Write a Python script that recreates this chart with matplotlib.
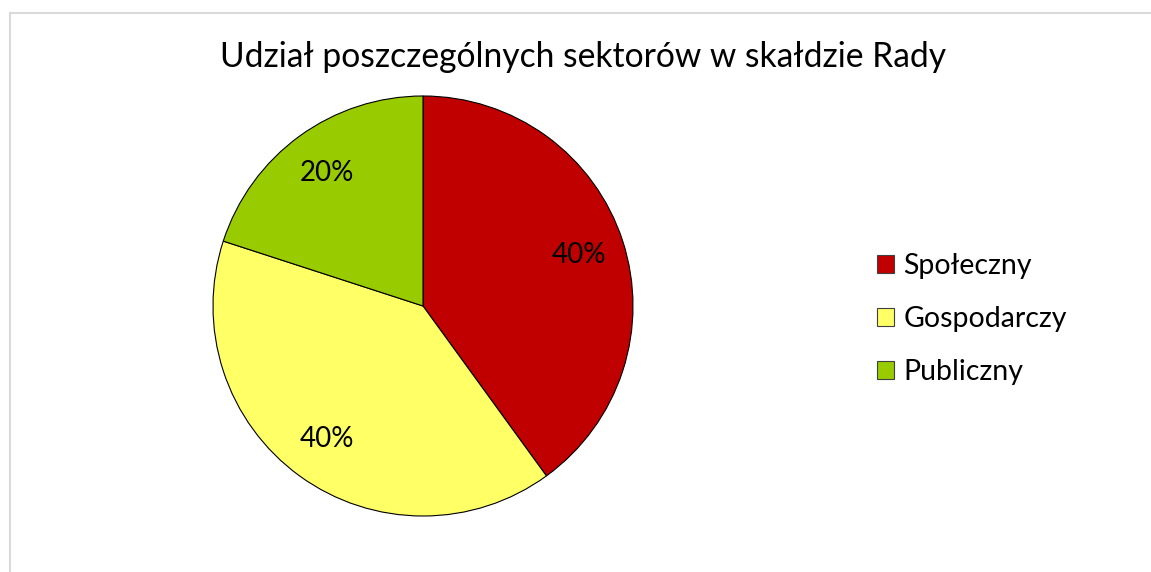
import matplotlib
matplotlib.use('Agg')
import matplotlib.pyplot as plt
from matplotlib.patches import Patch
from matplotlib.lines import Line2D

plt.rcParams['font.family'] = ['Lato', 'DejaVu Sans']

title = 'Udział poszczególnych sektorów w skałdzie Rady'
sectors = ['Społeczny', 'Gospodarczy', 'Publiczny']
shares = [40, 40, 20]
colors = ['#C00000', '#FFFF66', '#99CC00']

W, H = 1151, 572
fig = plt.figure(figsize=(W / 100, H / 100), dpi=100)

# light grey chart frame (runs off the right and bottom edge)
fig.add_artist(Line2D([9.5 / W, 1.0], [1 - 12.5 / H, 1 - 12.5 / H], color='#d9d9d9', lw=1.5))
fig.add_artist(Line2D([9.5 / W, 9.5 / W], [1 - 12.5 / H, 0.0], color='#d9d9d9', lw=1.5))

# pie axes placed in pixels: left 213, top 96, size 420
ax = fig.add_axes([213 / W, (H - 516) / H, 420 / W, 420 / H])
wedges, texts, autotexts = ax.pie(
    shares, colors=colors, startangle=90, counterclock=False,
    autopct='%1.0f%%', pctdistance=0.78, radius=1.0,
    wedgeprops=dict(edgecolor='black', linewidth=0.8),
    textprops=dict(fontsize=20, color='black'))
ax.set_xlim(-1, 1)
ax.set_ylim(-1, 1)
ax.set_aspect('auto')
ax.axis('off')

fig.text(583 / W, 1 - 57 / H, title, ha='center', va='center', fontsize=24.2)

handles = [Patch(facecolor=c, edgecolor='#404040', linewidth=0.8) for c in colors]
fig.legend(handles, sectors, loc='center left', bbox_to_anchor=(877 / W, 1 - 319 / H),
           frameon=False, fontsize=20.5, handlelength=0.6, handleheight=0.6,
           handletextpad=0.32, labelspacing=0.95, borderpad=0, borderaxespad=0)

fig.savefig('out.png', dpi=100)
